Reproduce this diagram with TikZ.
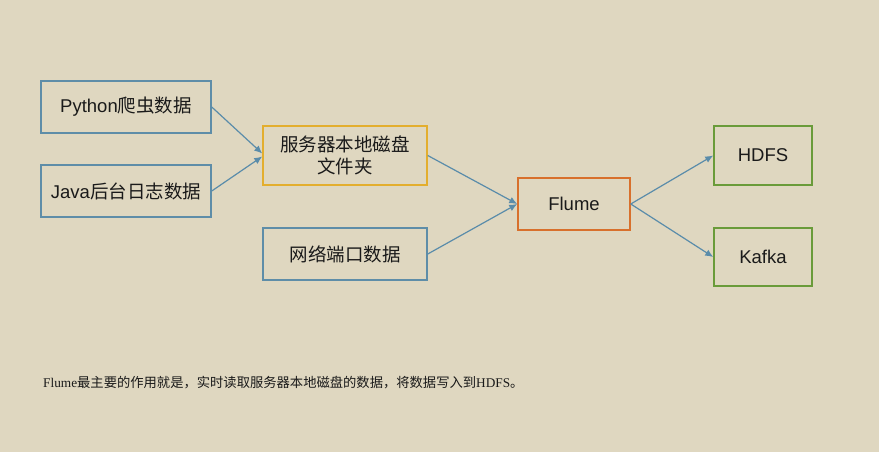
\documentclass[tikz,border=0pt]{standalone}
\usepackage{fontspec}
\setmainfont{Liberation Sans}
\newfontfamily\cjk{Noto Sans CJK SC}
\newfontfamily\serifl{Liberation Serif}
\usetikzlibrary{arrows.meta}
\definecolor{bg}{HTML}{DFD7C0}
\definecolor{bluebd}{HTML}{5E8DA8}
\definecolor{yellowbd}{HTML}{E3AE2E}
\definecolor{orangebd}{HTML}{D8702C}
\definecolor{greenbd}{HTML}{6A9B3A}
\definecolor{arrowc}{HTML}{5A8CAA}
\definecolor{txt}{HTML}{1A1A1A}
\tikzset{
  box/.style={draw, line width=1.5pt, rectangle, inner sep=0pt, text=txt,
    font=\fontsize{18.5}{22}\selectfont, align=center},
  conn/.style={draw=arrowc, line width=1.2pt, -{Latex[length=8pt,width=7pt]}}
}
\begin{document}
\begin{tikzpicture}[x=1pt,y=-1pt]
\fill[bg] (0,0) rectangle (879,452);
\useasboundingbox (0,0) rectangle (879,452);
\node[box, draw=bluebd, minimum width=170pt, minimum height=52pt] (py) at (126,107) {Python{\cjk 爬虫数据}};
\node[box, draw=bluebd, minimum width=170pt, minimum height=52pt] (java) at (126,191) {Java{\cjk 后台日志数据}};
\node[box, draw=yellowbd, minimum width=164pt, minimum height=59pt] (srv) at (345,155.5) {{\cjk 服务器本地磁盘}\\{\cjk 文件夹}};
\node[box, draw=bluebd, minimum width=164pt, minimum height=52pt] (net) at (345,254) {{\cjk 网络端口数据}};
\node[box, draw=orangebd, minimum width=112pt, minimum height=52pt] (flume) at (574,204) {Flume};
\node[box, draw=greenbd, minimum width=98pt, minimum height=59pt] (hdfs) at (763,155.5) {HDFS};
\node[box, draw=greenbd, minimum width=98pt, minimum height=58pt] (kafka) at (763,257) {Kafka};
\draw[conn] (py.east) -- ([yshift=2pt]srv.west);
\draw[conn] (java.east) -- ([yshift=-1pt]srv.west);
\draw[conn] (srv.east) -- (flume.west);
\draw[conn] (net.east) -- (flume.west);
\draw[conn] (flume.east) -- (hdfs.west);
\draw[conn] (flume.east) -- (kafka.west);
\node[anchor=west, inner sep=0pt, text=txt, font=\fontsize{13.3}{16}\selectfont] (caption) at (43,383)
  {{\serifl Flume}{\cjk 最主要的作用就是，实时读取服务器本地磁盘的数据，将数据写入到}{\serifl HDFS}{\cjk 。}};
\end{tikzpicture}
\end{document}
